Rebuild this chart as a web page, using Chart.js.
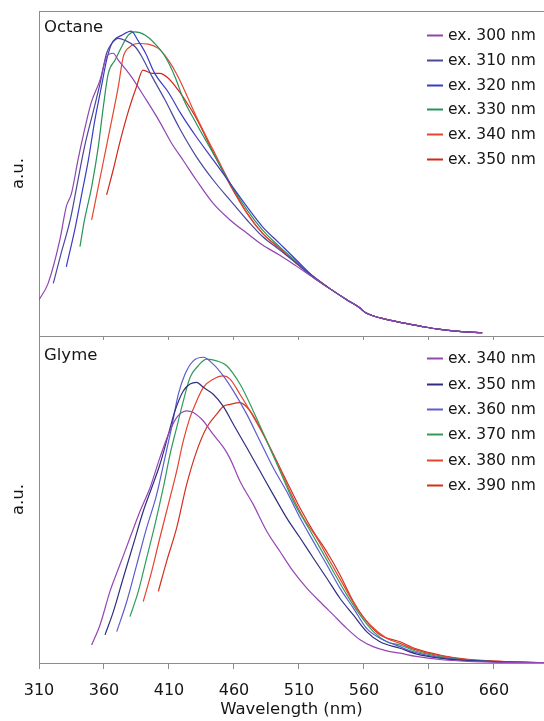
<!DOCTYPE html>
<html><head><meta charset="utf-8">
<script src="https://cdn.jsdelivr.net/npm/chart.js@4.4.1/dist/chart.umd.min.js"></script>
<style>
html,body{margin:0;padding:0;background:#fff;}
#wrap{position:relative;width:544px;height:721px;overflow:hidden;background:#fff;}
#c1{position:absolute;left:0;top:0;}
#c2{position:absolute;left:0;top:325px;}
</style></head><body>
<div id="wrap">
<canvas id="c1" width="544" height="340"></canvas>
<canvas id="c2" width="544" height="396"></canvas>
</div>
<script>
// ---------- shared axis ----------
const xMin = 310, xMax = 698.5;
const xTicks = [310, 360, 410, 460, 510, 560, 610, 660];
const xTitle = 'Wavelength (nm)';
const yTitle = 'a.u.';

// ---------- Octane panel ----------
const octaneName = 'Octane';
const octaneLabels = ['ex. 300 nm', 'ex. 310 nm', 'ex. 320 nm', 'ex. 330 nm', 'ex. 340 nm', 'ex. 350 nm'];
const octaneColors = ['#8f45b0', '#48489a', '#3b3bc4', '#27935a', '#e4462e', '#d0281c'];
const octWl300 = [310, 317, 326, 331, 335, 340, 345, 350, 357, 362, 367, 371, 381, 391, 402, 412, 421, 431, 444, 457, 470, 482, 495, 508, 521, 534, 547, 557, 561, 574, 592, 605, 617, 633, 651];
const octI300  = [11.1, 16.2, 29.5, 39.8, 43.9, 54.2, 63.4, 71.6, 78.8, 85.9, 87, 84.9, 79.8, 73.6, 66.5, 59.3, 54, 48, 40.8, 35.7, 31.6, 28, 24.9, 21.5, 18, 14.5, 11.1, 8.6, 7.2, 5.4, 3.9, 2.9, 2.1, 1.4, 1.0];
const octWl310 = [321, 327, 334, 339, 345, 352, 357, 362, 366, 371, 376, 384, 389, 397, 407, 418, 431, 444, 457, 470, 482, 495, 508, 521, 534, 547, 557, 561, 574, 592, 605, 617, 633, 651];
const octI310  = [16.2, 25.4, 35.7, 45.9, 58.2, 69.5, 77.7, 87, 90, 91.6, 91, 89, 86, 79.8, 72.6, 64, 55.2, 48, 41.8, 35.7, 30.6, 26.5, 22.4, 18, 14.5, 11.1, 8.6, 7.2, 5.4, 3.9, 2.9, 2.1, 1.4, 1.0];
const octWl320 = [331, 338, 343, 348, 353, 358, 362, 366, 374, 381, 386, 392, 399, 410, 419, 431, 444, 457, 470, 482, 495, 508, 521, 534, 547, 557, 561, 574, 592, 605, 617, 633, 651];
const octI320  = [21.3, 33.6, 43.9, 54.2, 66.5, 76.7, 84.9, 90, 92.6, 93.8, 91, 87, 80.8, 74.7, 68.5, 61.3, 54.2, 47, 39.8, 33.6, 28.5, 23.4, 18.3, 14.5, 11.1, 8.6, 7.2, 5.4, 3.9, 2.9, 2.1, 1.4, 1.0];
const octWl330 = [341.5, 345, 350.5, 355.6, 359.5, 363.3, 368.5, 373.6, 378.7, 383.8, 391.5, 399, 407, 414.6, 421, 431, 444, 457, 470, 482, 495, 508, 521, 534, 547, 557, 561, 574, 592, 605, 617, 633, 651];
const octI330  = [27.5, 35.7, 45.9, 58.2, 70.6, 80.8, 84.9, 89, 92.6, 93.6, 92.6, 90, 86, 79.8, 73, 65.4, 56.2, 47, 38.8, 32.6, 27.5, 22.9, 18.3, 14.5, 11.1, 8.6, 7.2, 5.4, 3.9, 2.9, 2.1, 1.4, 1.0];
const octWl340 = [350.5, 355.6, 360.8, 366, 371, 374.8, 380, 386.4, 394, 401.8, 409.5, 417, 431, 444, 457, 470, 482, 495, 508, 521, 534, 547, 557, 561, 574, 592, 605, 617, 633, 651];
const octI340  = [35.7, 45.9, 56.2, 66.5, 76.7, 85.9, 89, 90, 89.8, 88.5, 84.9, 79.8, 67.5, 57.2, 47, 37.8, 31.6, 27, 22.4, 18.3, 14.5, 11.1, 8.6, 7.2, 5.4, 3.9, 2.9, 2.1, 1.4, 1.0];
const octWl350 = [362, 367, 372, 379, 385, 390, 397, 403, 409.5, 417, 424, 431, 444, 457, 470, 482, 495, 508, 521, 534, 547, 557, 561, 574, 592, 605, 617, 633, 651];
const octI350  = [43.4, 51, 59.3, 69.5, 76.7, 81.8, 80.8, 80.8, 79.3, 75.7, 71.6, 67, 56.5, 46.5, 37.8, 31.6, 27, 22.4, 18.3, 14.5, 11.1, 8.6, 7.2, 5.4, 3.9, 2.9, 2.1, 1.4, 1.0];

// ---------- Glyme panel ----------
const glymeName = 'Glyme';
const glymeLabels = ['ex. 340 nm', 'ex. 350 nm', 'ex. 360 nm', 'ex. 370 nm', 'ex. 380 nm', 'ex. 390 nm'];
const glymeColors = ['#9646b4', '#2e2e80', '#5c5cd0', '#2f9c5e', '#e4442e', '#d2301f'];
const glyWl340 = [350.5, 357, 364.6, 372.3, 380, 387.7, 395.4, 403, 409.5, 416, 423.6, 428.7, 436.4, 444, 451.8, 457, 464.6, 474.8, 485.2, 495.4, 505.6, 516, 526, 536.4, 546.7, 557, 567, 577.5, 587.7, 600, 620, 640, 670, 698];
const glyI340  = [5.5, 11.7, 21.9, 30.1, 38.3, 46.4, 53.6, 62.8, 69.9, 75.1, 77.1, 76.6, 74, 69.9, 66, 62.5, 55.6, 48.5, 40.3, 34.1, 28, 22.9, 18.8, 14.7, 10.6, 7.1, 5, 3.7, 3, 2, 1, 0.5, 0.2, 0.1];
const glyWl350 = [360.8, 367.2, 374.8, 382.5, 390.2, 396.7, 403, 409.5, 414.6, 421, 426.2, 431.3, 436.4, 444, 451.8, 459.5, 469.8, 480, 490.2, 500.5, 510.8, 521, 531.3, 541.5, 551.8, 562, 572.3, 587.7, 600, 620, 640, 670, 698];
const glyI350  = [8.6, 15.7, 26, 36.2, 46.4, 53.6, 60.7, 69.9, 77.1, 83.2, 85.3, 85.8, 84.3, 82.2, 78.5, 73, 65.9, 58.7, 51.5, 44.4, 38.3, 32.1, 26, 19.8, 14.7, 9.6, 6.5, 4.5, 2.8, 1.4, 0.7, 0.3, 0.1];
const glyWl360 = [369.8, 377.5, 385.2, 392.8, 400.5, 406.9, 412, 417.2, 422.3, 428.7, 436.4, 444, 451.8, 459.5, 469.8, 480, 490.2, 500.5, 510.8, 521, 531.3, 541.5, 551.8, 562, 572.3, 587.7, 600, 620, 640, 670, 698];
const glyI360  = [9.6, 18.8, 30.1, 41.3, 51.5, 62.8, 72, 82.2, 88.3, 92.4, 93.5, 91.4, 87.8, 83.2, 76.1, 67.9, 59.7, 52.5, 44.4, 37.2, 30.1, 22.9, 16.8, 10.6, 7.6, 5, 3.2, 1.6, 0.8, 0.3, 0.1];
const glyWl370 = [380, 386.4, 392.8, 399.2, 405.6, 410.8, 415.9, 421, 426.2, 432.5, 439, 446.7, 454.4, 464.6, 474.8, 485.2, 495.4, 505.6, 515.9, 526.2, 536.4, 546.7, 556.9, 567.2, 577.5, 587.7, 600, 620, 640, 670, 698];
const glyI370  = [14.2, 21.9, 32.1, 42.3, 53.6, 63.8, 72, 80.1, 87.3, 90.9, 92.9, 92.4, 90.9, 85.3, 77.1, 67.9, 58.7, 49.5, 42.3, 35.2, 28, 20.9, 14.7, 9.6, 6.5, 5.5, 3.6, 1.8, 0.9, 0.3, 0.1];
const glyWl380 = [390.2, 396.7, 403, 409.5, 415.9, 421, 426.2, 431.3, 436.4, 444, 451.8, 457, 464.6, 472.3, 482.5, 492.8, 503, 513.3, 523.6, 533.8, 544.1, 554.4, 564.6, 577.5, 587.7, 600, 620, 640, 670, 698];
const glyI380  = [18.8, 28, 38.3, 48.5, 58.7, 67.9, 75.1, 80.1, 84.3, 86.8, 87.8, 86.8, 82.2, 77.1, 69.9, 61.8, 52.5, 44.4, 38.3, 31.1, 23.9, 16.8, 11.7, 7.6, 6, 4, 2.1, 1, 0.4, 0.1];
const glyWl390 = [401.8, 408.2, 415.9, 423.6, 431.3, 439, 446.7, 452, 457, 464.6, 472.3, 480, 490.2, 500.5, 510.8, 521, 531.3, 541.5, 551.8, 562, 572.3, 587.7, 600, 620, 640, 670, 698];
const glyI390  = [21.9, 31.1, 41.3, 54.6, 64.8, 72, 76.1, 78.5, 79.1, 79.6, 77.1, 72, 63.8, 55.6, 47.4, 40.3, 34.1, 27, 18.8, 12.7, 8.6, 6.5, 4.3, 2.3, 1.1, 0.4, 0.1];

// ---------- styling ----------
const AXIS = '#8c8c8c';
const TEXT = '#161616';
const FONT = '"DejaVu Sans", "Liberation Sans", Arial, sans-serif';

function series(wl, vals, label, color) {
  return {
    label, borderColor: color, backgroundColor: color, borderWidth: 1.2,
    pointRadius: 0, fill: false, cubicInterpolationMode: 'monotone',
    data: wl.map((x, i) => ({x, y: vals[i]}))
  };
}

const panelDecor = {
  id: 'panelDecor',
  afterDraw(chart, args, o) {
    const {ctx, chartArea: a} = chart;
    ctx.save();
    if (o.topLine) {
      ctx.strokeStyle = AXIS; ctx.lineWidth = 1;
      ctx.beginPath(); ctx.moveTo(a.left, a.top + 0.5); ctx.lineTo(a.right, a.top + 0.5); ctx.stroke();
    }
    ctx.fillStyle = TEXT; ctx.textAlign = 'left'; ctx.textBaseline = 'middle';
    ctx.font = '16.5px ' + FONT;
    ctx.fillText(o.name, a.left + 5, a.top + o.nameDy);
    chart.data.datasets.forEach((ds, i) => {
      const y = Math.round(a.top + o.legendTop + i * o.legendStep) + 0.5;
      ctx.strokeStyle = ds.borderColor; ctx.lineWidth = 2;
      ctx.beginPath(); ctx.moveTo(a.right - 117, y); ctx.lineTo(a.right - 101, y); ctx.stroke();
      ctx.font = '15.5px ' + FONT;
      ctx.fillStyle = TEXT;
      ctx.fillText(ds.label, a.right - 96, y);
    });
    ctx.restore();
  }
};

function yScale() {
  return {
    min: 0, max: 100,
    afterFit: s => { s.width = 39; },
    ticks: {display: false},
    grid: {display: true, drawOnChartArea: false, drawTicks: false},
    border: {display: true, color: AXIS, width: 1},
    title: {display: true, text: yTitle, color: TEXT, font: {family: FONT, size: 16.5}, padding: {top: 9, bottom: 0}}
  };
}

function makeChart(id, datasets, bottom, decor) {
  const x = {
    type: 'linear', min: xMin, max: xMax,
    afterBuildTicks: s => { s.ticks = xTicks.map(v => ({value: v})); },
    grid: {display: true, drawOnChartArea: false, drawTicks: true, tickLength: bottom ? 6 : 4, color: AXIS},
    border: {display: true, color: AXIS, width: 1}
  };
  if (bottom) {
    x.afterFit = s => { s.height = 58; };
    x.ticks = {display: true, autoSkip: false, maxRotation: 0, color: TEXT, padding: 12, font: {family: FONT, size: 16}};
    x.title = {display: true, text: xTitle, color: TEXT, font: {family: FONT, size: 16.5}, padding: {top: 0, bottom: 1}};
  } else {
    x.afterFit = s => { s.height = 4; };
    x.ticks = {display: false};
  }
  return new Chart(document.getElementById(id), {
    type: 'line',
    data: {datasets},
    options: {
      responsive: false, animation: false, devicePixelRatio: 1,
      layout: {padding: {top: 11, left: 0, right: 0, bottom: 0}},
      plugins: {legend: {display: false}, tooltip: {enabled: false}, panelDecor: decor},
      scales: {x, y: yScale()}
    },
    plugins: [panelDecor]
  });
}

const octWls = [octWl300, octWl310, octWl320, octWl330, octWl340, octWl350];
const octIs = [octI300, octI310, octI320, octI330, octI340, octI350];
const glyWls = [glyWl340, glyWl350, glyWl360, glyWl370, glyWl380, glyWl390];
const glyIs = [glyI340, glyI350, glyI360, glyI370, glyI380, glyI390];

makeChart('c1', octWls.map((w, i) => series(w, octIs[i], octaneLabels[i], octaneColors[i])), false,
  {name: octaneName, nameDy: 17, legendTop: 24, legendStep: 24.8, topLine: true});
makeChart('c2', glyWls.map((w, i) => series(w, glyIs[i], glymeLabels[i], glymeColors[i])), true,
  {name: glymeName, nameDy: 20, legendTop: 22.3, legendStep: 25.3, topLine: false});
</script>
</body></html>
